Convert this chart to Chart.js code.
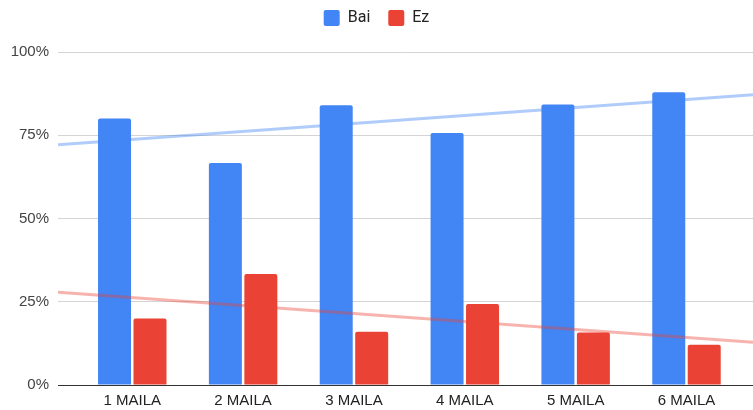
<!DOCTYPE html>
<html>
<head>
<meta charset="utf-8">
<script src="https://cdn.jsdelivr.net/npm/chart.js@4"></script>
<style>
  html, body { margin: 0; padding: 0; background: #fff; overflow: hidden; }
  #wrap { width: 753px; height: 410px; }
</style>
</head>
<body>
<div id="wrap"><canvas id="myBarChart"></canvas></div>
<script>
const categories = ["1 MAILA", "2 MAILA", "3 MAILA", "4 MAILA", "5 MAILA", "6 MAILA"];
const bai = [80, 66.7, 84, 75.7, 84.2, 87.9];
const ez = [20, 33.3, 16, 24.3, 15.8, 12.1];
const yTicks = [0, 25, 50, 75, 100];

// x range a bit wider than the categories, like the sheet
const xMin = -0.67;
const xMax = 5.6;

// least squares line over category index
function trend(values) {
  const n = values.length;
  const mx = (n - 1) / 2;
  const my = values.reduce((a, b) => a + b, 0) / n;
  let sxy = 0, sxx = 0;
  values.forEach((v, i) => {
    sxy += (i - mx) * (v - my);
    sxx += (i - mx) * (i - mx);
  });
  const k = sxy / sxx;
  return [xMin, xMax].map(x => ({ x: x, y: my + k * (x - mx) }));
}

const toPoints = arr => arr.map((v, i) => ({ x: i, y: v }));

// extra room under the legend
const legendGap = {
  id: "legendGap",
  beforeInit(chart) {
    const fit = chart.legend.fit;
    chart.legend.fit = function () {
      fit.bind(chart.legend)();
      this.height += 16;
    };
  }
};

document.addEventListener("DOMContentLoaded", function () {
  const ctx = document.getElementById("myBarChart").getContext("2d");
  const font = { family: "'Liberation Sans', Arial, sans-serif", size: 15 };

  new Chart(ctx, {
    data: {
      datasets: [
        {
          type: "bar",
          label: "Bai",
          backgroundColor: "#4285f4",
          data: toPoints(bai),
          borderRadius: 2,
          borderSkipped: "start",
          categoryPercentage: 0.64,
          barPercentage: 0.93,
          order: 2
        },
        {
          type: "bar",
          label: "Ez",
          backgroundColor: "#ea4335",
          data: toPoints(ez),
          borderRadius: 2,
          borderSkipped: "start",
          categoryPercentage: 0.64,
          barPercentage: 0.93,
          order: 2
        },
        {
          type: "line",
          label: "Bai trend",
          data: trend(bai),
          borderColor: "rgba(66,133,244,0.42)",
          borderWidth: 3,
          pointRadius: 0,
          fill: false,
          order: 1
        },
        {
          type: "line",
          label: "Ez trend",
          data: trend(ez),
          borderColor: "rgba(234,67,53,0.4)",
          borderWidth: 3,
          pointRadius: 0,
          fill: false,
          order: 1
        }
      ]
    },
    options: {
      responsive: true,
      maintainAspectRatio: false,
      animation: false,
      layout: { padding: { top: -8, right: 0, bottom: 0, left: 0 } },
      scales: {
        x: {
          type: "linear",
          min: xMin,
          max: xMax,
          offset: false,
          afterBuildTicks: axis => {
            axis.ticks = categories.map((c, i) => ({ value: i }));
          },
          afterFit: axis => { axis.height = 25; },
          ticks: {
            callback: v => categories[v],
            color: "#222",
            font: font,
            padding: 7,
            maxRotation: 0,
            autoSkip: false
          },
          grid: { display: false, drawTicks: false },
          border: { display: true, color: "#333", width: 1 }
        },
        y: {
          min: 0,
          max: 100,
          afterBuildTicks: axis => {
            axis.ticks = yTicks.map(v => ({ value: v }));
          },
          afterFit: axis => { axis.width = 58; },
          ticks: {
            callback: v => v + "%",
            color: "#444",
            font: font,
            padding: 9
          },
          grid: { color: "#d4d4d4", lineWidth: 1, drawTicks: false },
          border: { display: false }
        }
      },
      plugins: {
        legend: {
          position: "top",
          labels: {
            filter: item => item.datasetIndex < 2,
            boxWidth: 16,
            boxHeight: 16,
            useBorderRadius: true,
            borderRadius: 2,
            color: "#222",
            font: { family: "Roboto, 'Liberation Sans', sans-serif", size: 16 },
            padding: 18
          }
        },
        tooltip: { enabled: false },
        title: { display: false }
      }
    },
    plugins: [legendGap]
  });
});
</script>
</body>
</html>
